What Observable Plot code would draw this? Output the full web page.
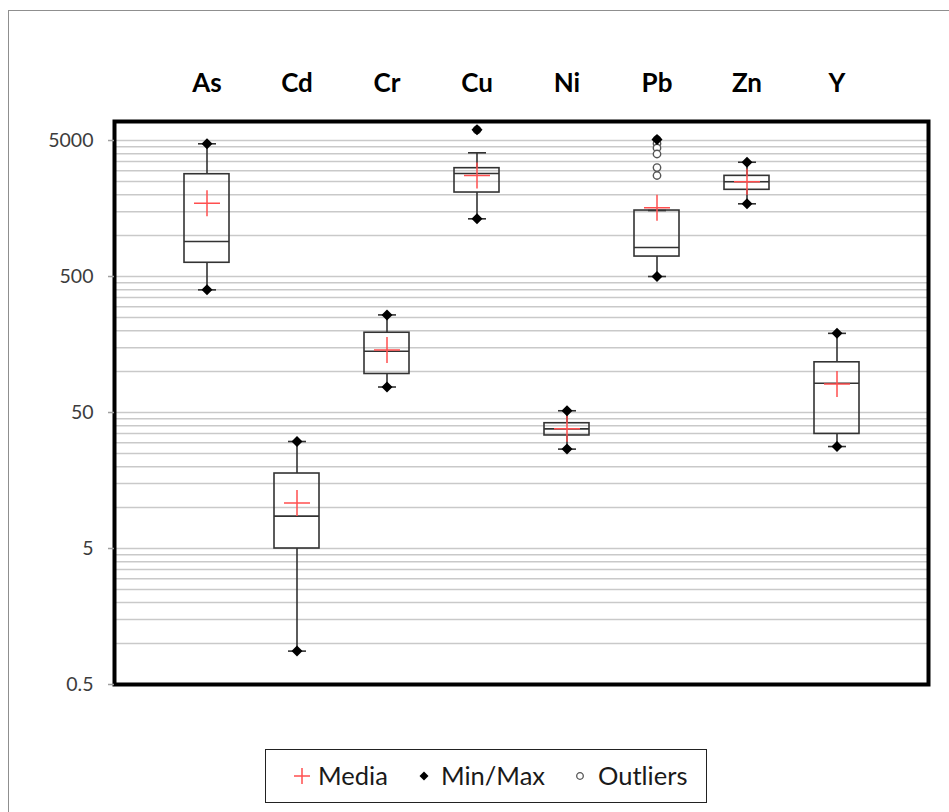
<!DOCTYPE html>
<html>
<head>
<meta charset="utf-8">
<script src="https://cdn.jsdelivr.net/npm/d3@7"></script>
<script src="https://cdn.jsdelivr.net/npm/@observablehq/plot@0.6"></script>
<style>
html,body{margin:0;padding:0;background:#fff;overflow:hidden;}
#wrap{position:relative;width:949px;height:812px;font-family:Lato,sans-serif;overflow:hidden;}
#outer{position:absolute;left:8px;top:10px;width:1000px;height:900px;border:1.5px solid #8f8f8f;}
#chart{position:absolute;left:0;top:0;}
#legend{position:absolute;left:265px;top:749px;width:442px;height:54px;box-sizing:border-box;border:1.5px solid #222;font-size:25.5px;color:#1a1a1a;}
#legend .sym{position:absolute;top:50%;transform:translate(-50%,-50%);display:block;line-height:0;}
#legend .txt{position:absolute;top:50%;transform:translateY(-52%);line-height:1;white-space:nowrap;}
</style>
</head>
<body>
<div id="wrap">
  <div id="outer"></div>
  <div id="chart"></div>
  <div id="legend"></div>
</div>
<script>
// ---- data ----
const elements = ["As", "Cd", "Cr", "Cu", "Ni", "Pb", "Zn", "Y"];
const minValues   = [399, 0.88, 77, 1328, 26.9, 500, 1712, 28.1];
const q1Values    = [631, 5.0, 96, 2073, 33.9, 701, 2170, 34.8];
const medianValues= [905, 8.65, 141, 2860, 37.9, 817, 2485, 82];
const q3Values    = [2826, 17.8, 193, 3130, 41.7, 1528, 2749, 117];
const maxValues   = [4730, 30.6, 261, 5990, 51.5, 5085, 3462, 191];
const meanValues  = [1730, 10.8, 144, 2760, 38, 1600, 2485, 81];
const whiskerLow  = [399, 0.88, 77, 1328, 26.9, 500, 1712, 28.1];
const whiskerHigh = [4730, 30.6, 261, 4060, 51.5, 1528, 3462, 191];
const outlierElements = ["Cu", "Pb", "Pb", "Pb", "Pb", "Pb", "Pb"];
const outlierValues   = [5990, 5085, 4750, 4405, 3980, 3165, 2765];
const yTicks = [0.5, 5, 50, 500, 5000];
const yTickLabels = ["0.5", "5", "50", "500", "5000"];
const legendLabels = ["Media", "Min/Max", "Outliers"];

// ---- tables built from the arrays ----
const rows = elements.map((el, i) => ({
  el, min: minValues[i], q1: q1Values[i], median: medianValues[i], q3: q3Values[i],
  max: maxValues[i], mean: meanValues[i], wLow: whiskerLow[i], wHigh: whiskerHigh[i]
}));
const outs = outlierElements.map((el, i) => ({el, v: outlierValues[i]}));
const tickRows = yTicks.map((v, i) => ({v, label: yTickLabels[i]}));
const gridValues = d3.range(0, 4).flatMap(d => d3.range(1, 10).map(k => +(0.5 * k * 10 ** d).toPrecision(6))).concat([5000]);

// ---- custom symbols ----
const capSym = {draw(c, s) { const r = Math.sqrt(s / Math.PI); c.moveTo(-r, 0); c.lineTo(r, 0); }};
const plusSym = {draw(c, s) { const r = Math.sqrt(s / Math.PI); c.moveTo(-r, 0); c.lineTo(r, 0); c.moveTo(0, -r); c.lineTo(0, r); }};
const diamondSym = {draw(c, s) { const r = Math.sqrt(s / Math.PI); c.moveTo(0, -r); c.lineTo(r, 0); c.lineTo(0, r); c.lineTo(-r, 0); c.closePath(); }};

const ink = "#333333";
const red = "#ff4f4f";

const chart = Plot.plot({
  width: 949,
  height: 730,
  marginLeft: 114,
  marginRight: 21,
  marginTop: 121,
  marginBottom: 46,
  style: {fontFamily: "Lato, sans-serif", background: "transparent", overflow: "visible"},
  x: {type: "band", domain: elements, paddingInner: 0.5, paddingOuter: 0.75, label: null},
  y: {type: "log", domain: [0.5, 6900], label: null},
  marks: [
    Plot.ruleY(gridValues, {stroke: "#c9c9c9", strokeWidth: 1.5}),
    Plot.ruleX(rows, {x: "el", y1: "wLow", y2: "q1", stroke: ink, strokeWidth: 1.6}),
    Plot.ruleX(rows, {x: "el", y1: "q3", y2: "wHigh", stroke: ink, strokeWidth: 1.6}),
    Plot.barY(rows, {x: "el", y1: "q1", y2: "q3", fill: "none", stroke: ink, strokeWidth: 1.6}),
    Plot.tickY(rows, {x: "el", y: "median", stroke: ink, strokeWidth: 1.6}),
    Plot.dot(rows, {x: "el", y: "wLow", symbol: capSym, r: 9, fill: "none", stroke: ink, strokeWidth: 1.6}),
    Plot.dot(rows, {x: "el", y: "wHigh", symbol: capSym, r: 9, fill: "none", stroke: ink, strokeWidth: 1.6}),
    Plot.dot(outs, {x: "el", y: "v", r: 3.7, fill: "white", stroke: "#555", strokeWidth: 1.4}),
    Plot.dot(rows, {x: "el", y: "mean", symbol: plusSym, r: 13, fill: "none", stroke: red, strokeWidth: 1.5}),
    Plot.dot(rows, {x: "el", y: "min", symbol: diamondSym, r: 5.5, fill: "black", stroke: "none"}),
    Plot.dot(rows, {x: "el", y: "max", symbol: diamondSym, r: 5.5, fill: "black", stroke: "none"}),
    Plot.frame({stroke: "black", strokeWidth: 4}),
    Plot.axisY({ticks: yTicks, tickSize: 6, tickFormat: () => "", stroke: "#a0a0a0", strokeWidth: 1.5}),
    Plot.text(tickRows, {y: "v", text: "label", frameAnchor: "left", textAnchor: "end", dx: -21,
                         fontSize: 19.5, fill: "#3c3c3c"}),
    Plot.axisX({anchor: "top", tickSize: 0, tickPadding: 30, fontSize: 26, fontWeight: "bold", color: "black"})
  ]
});
document.getElementById("chart").appendChild(chart);

// ---- legend ----
const legend = d3.select("#legend");
const symX = [36, 158, 314];
const txtX = [52, 175, 332];
const symSvg = [
  '<svg width="20" height="20" viewBox="-10 -10 20 20"><path d="M-8,0H8M0,-8V8" stroke="' + red + '" stroke-width="1.5" fill="none"/></svg>',
  '<svg width="12" height="12" viewBox="-6 -6 12 12"><path d="M0,-4.5L4.5,0L0,4.5L-4.5,0Z" fill="black"/></svg>',
  '<svg width="12" height="12" viewBox="-6 -6 12 12"><circle r="3.3" fill="white" stroke="#555" stroke-width="1.3"/></svg>'
];
legendLabels.forEach((t, i) => {
  legend.append("span").attr("class", "sym").style("left", symX[i] + "px").html(symSvg[i]);
  legend.append("span").attr("class", "txt").style("left", txtX[i] + "px").text(t);
});
</script>
</body>
</html>
